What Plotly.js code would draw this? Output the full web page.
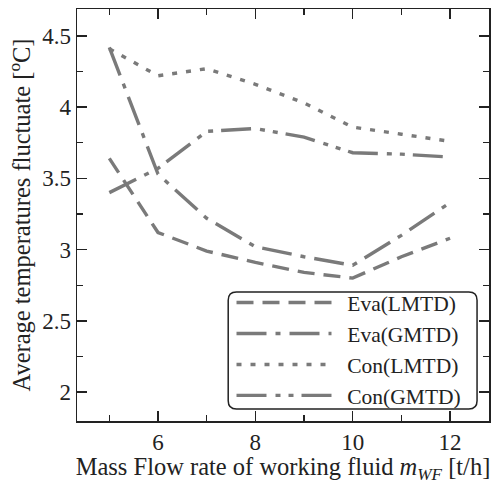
<!DOCTYPE html>
<html><head><meta charset="utf-8">
<script src="https://cdn.plot.ly/plotly-3.0.1.min.js"></script>
<style>body{margin:0;padding:0;background:#fff}#chart{width:500px;height:484px}</style>
</head><body><div id="chart"></div>
<script>
const flowRate = [5, 6, 7, 8, 9, 10, 11, 12];
const evaLMTD = [3.64, 3.12, 2.99, 2.91, 2.84, 2.80, 2.95, 3.08];
const evaGMTD = [4.42, 3.53, 3.22, 3.02, 2.95, 2.89, 3.10, 3.33];
const conLMTD = [4.41, 4.22, 4.27, 4.16, 4.03, 3.86, 3.81, 3.76];
const conGMTD = [3.40, 3.57, 3.83, 3.85, 3.79, 3.68, 3.67, 3.65];
const seriesNames = ['Eva(LMTD)', 'Eva(GMTD)', 'Con(LMTD)', 'Con(GMTD)'];

const gray = '#7a7a7a';
const font = 'Liberation Serif, Times New Roman, serif';
const dashes = ['17px,9px', '30px,9px,5px,9px', '5px,9px', '30px,9px,5px,8px,5px,8px'];
const ys = [evaLMTD, evaGMTD, conLMTD, conGMTD];
const traces = ys.map((y, i) => ({
  x: flowRate, y: y, name: '\u2002' + seriesNames[i], type: 'scatter', mode: 'lines',
  line: {color: gray, width: 3.4, dash: dashes[i]}
}));

const axisCommon = {
  showgrid: false, zeroline: false, showline: true, linecolor: '#222', linewidth: 1.5,
  mirror: 'ticks', ticks: 'inside', ticklen: 10, tickwidth: 1.5, tickcolor: '#222',
  tickfont: {family: font, size: 23, color: '#222'},
  minor: {ticks: 'inside', ticklen: 6, tickwidth: 1.3, tickcolor: '#222'}
};

const layout = {
  width: 500, height: 484,
  margin: {l: 77, r: 11, t: 9, b: 63},
  paper_bgcolor: '#fff', plot_bgcolor: '#fff',
  font: {family: font, color: '#222'},
  xaxis: Object.assign({}, axisCommon, {
    range: [4.336, 12.80], tickvals: [6, 8, 10, 12], ticktext: ['6', '8', '10', '12'],
    minor: Object.assign({}, axisCommon.minor, {dtick: 1, tick0: 5}),
    title: {text: 'Mass Flow rate of working fluid <i>m</i><sub><i>WF</i></sub> [t/h]', font: {family: font, size: 24.5, color: '#222'}, standoff: 4}
  }),
  yaxis: Object.assign({}, axisCommon, {
    range: [1.797, 4.689], tickvals: [2, 2.5, 3, 3.5, 4, 4.5], ticktext: ['2', '2.5', '3', '3.5', '4', '4.5'],
    minor: Object.assign({}, axisCommon.minor, {dtick: 0.25, tick0: 2}),
    title: {text: 'Average temperatures fluctuate [<sup>o</sup>C]', font: {family: font, size: 24.5, color: '#222'}, standoff: 4}
  }),
  legend: {
    x: 0.375, xanchor: 'left', y: 0.012, yanchor: 'bottom',
    bgcolor: 'rgba(0,0,0,0)', borderwidth: 0, itemwidth: 95,
    font: {family: font, size: 21.5, color: '#222'}, tracegroupgap: 0
  },
  shapes: [{
    type: 'path', xref: 'paper', yref: 'paper', layer: 'above',
    path: 'M 0.387 0.029 L 0.951 0.029 Q 0.971 0.029 0.971 0.049 L 0.971 0.293 Q 0.971 0.313 0.951 0.313 L 0.387 0.313 Q 0.367 0.313 0.367 0.293 L 0.367 0.049 Q 0.367 0.029 0.387 0.029 Z',
    line: {color: '#222', width: 1.5}, fillcolor: 'rgba(0,0,0,0)'
  }],
  showlegend: true
};

Plotly.newPlot('chart', traces, layout, {staticPlot: true, displayModeBar: false});
</script></body></html>
